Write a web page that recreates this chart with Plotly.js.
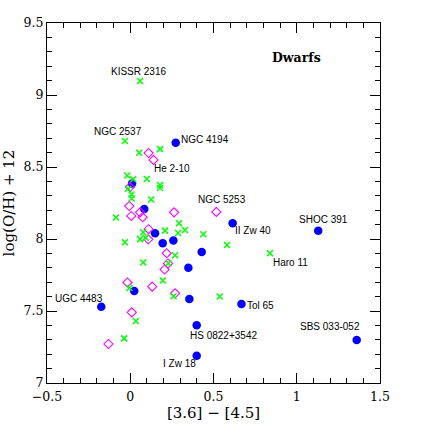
<!DOCTYPE html>
<html>
<head>
<meta charset="utf-8">
<script src="https://cdn.plot.ly/plotly-3.0.1.min.js"></script>
<style>html,body{margin:0;padding:0;background:#fff;}#chart{width:429px;height:429px;}</style>
</head>
<body>
<div id="chart"></div>
<script>
// Blue filled circles
const blueX = [0.273, 0.011, 0.084, 0.149, 0.195, 0.259, 0.615, 1.129, 0.429, 0.349, 0.355, 0.399, 0.668, 0.024, -0.174, 0.399, 1.360];
const blueY = [8.669, 8.385, 8.208, 8.040, 7.970, 7.990, 8.109, 8.058, 7.910, 7.801, 7.583, 7.401, 7.549, 7.639, 7.530, 7.190, 7.299];

// Magenta open diamonds
const magX = [0.110, 0.140, -0.002, -0.006, 0.006, 0.059, 0.074, 0.263, 0.517, 0.110, 0.108, 0.219, 0.227, 0.206, -0.017, 0.132, 0.269, 0.009, -0.131];
const magY = [8.597, 8.549, 8.361, 8.229, 8.160, 8.185, 8.151, 8.185, 8.188, 8.068, 7.998, 7.901, 7.830, 7.788, 7.698, 7.669, 7.623, 7.491, 7.271];

// Green crosses
const grnX = [0.059, -0.032, 0.054, 0.179, -0.018, 0.018, 0.099, -0.012, 0.179, 0.179, 0.008, 0.008, 0.126, -0.086, 0.078, 0.059, 0.093, -0.032, 0.209, 0.293, 0.287, 0.329, 0.439, 0.581, 0.839, 0.269, 0.078, 0.229, 0.195, -0.005, 0.260, 0.537, 0.033, -0.036];
const grnY = [9.097, 8.681, 8.599, 8.624, 8.441, 8.415, 8.417, 8.349, 8.375, 8.354, 8.309, 8.281, 8.274, 8.149, 8.047, 7.999, 8.009, 7.977, 8.058, 8.109, 8.042, 8.063, 8.033, 7.958, 7.901, 7.887, 7.837, 7.831, 7.712, 7.660, 7.602, 7.601, 7.431, 7.310];

// Labelled galaxies: name, series, index into that series
const labelNames  = ["KISSR 2316", "NGC 2537", "NGC 4194", "He 2-10", "NGC 5253", "II Zw 40", "SHOC 391", "Haro 11", "Tol 65", "SBS 033-052", "HS 0822+3542", "I Zw 18", "UGC 4483"];
const labelSeries = ["grn", "grn", "blue", "mag", "mag", "blue", "blue", "grn", "blue", "blue", "blue", "blue", "blue"];
const labelIndex  = [0, 1, 0, 1, 8, 6, 7, 24, 12, 16, 11, 15, 14];

const xTickVals = [-0.5, 0, 0.5, 1, 1.5];
const yTickVals = [7, 7.5, 8, 8.5, 9, 9.5];

// Label placement (pixels relative to the point)
const labelStyle = [
  {xanchor: "center", xshift: -2, yshift: 10},
  {xanchor: "center", xshift: -7, yshift: 9},
  {xanchor: "left", xshift: 3, yshift: 3},
  {xanchor: "left", xshift: -2, yshift: -9},
  {xanchor: "center", xshift: 6, yshift: 12},
  {xanchor: "left", xshift: 0, yshift: -7},
  {xanchor: "center", xshift: 5, yshift: 11},
  {xanchor: "left", xshift: 1, yshift: -9},
  {xanchor: "left", xshift: 4, yshift: -2},
  {xanchor: "center", xshift: -27, yshift: 13},
  {xanchor: "left", xshift: -9, yshift: -10},
  {xanchor: "right", xshift: 1, yshift: -8},
  {xanchor: "right", xshift: 4, yshift: 8}
];

const series = {blue: [blueX, blueY], mag: [magX, magY], grn: [grnX, grnY]};

const traces = [
  {x: blueX, y: blueY, type: "scatter", mode: "markers",
   marker: {symbol: "circle", size: 8.5, color: "#0000ff", line: {width: 0}}},
  {x: magX, y: magY, type: "scatter", mode: "markers",
   marker: {symbol: "diamond-open", size: 7, color: "#ff00ff", line: {width: 1.1, color: "#ff00ff"}}},
  {x: grnX, y: grnY, type: "scatter", mode: "markers",
   marker: {symbol: "x-thin", size: 6, color: "#00ff00", line: {width: 1.5, color: "#00ff00"}}}
];

const annotations = labelNames.map((name, i) => {
  const s = series[labelSeries[i]];
  const st = labelStyle[i];
  return {
    x: s[0][labelIndex[i]], y: s[1][labelIndex[i]], xref: "x", yref: "y",
    text: name, showarrow: false, xanchor: st.xanchor, yanchor: "middle",
    xshift: st.xshift, yshift: st.yshift,
    font: {family: "Liberation Sans, Arial, sans-serif", size: 10, color: "#000"}
  };
});
annotations.push({
  x: 1.0, y: 9.26, xref: "x", yref: "y", text: "<b>Dwarfs</b>", showarrow: false,
  xanchor: "center", yanchor: "middle",
  font: {family: "DejaVu Serif, serif", size: 12.5, color: "#000"}
});

const axisCommon = {
  showgrid: false, zeroline: false, showline: true, linecolor: "#000", linewidth: 1,
  mirror: "allticks", ticks: "inside", ticklen: 10, tickwidth: 1, tickcolor: "#000",
  tickfont: {family: "DejaVu Serif, serif", size: 12.5, color: "#000"},
  minor: {dtick: 0.1, ticks: "inside", ticklen: 5, tickwidth: 1, tickcolor: "#000", showgrid: false}
};

const layout = {
  width: 429, height: 429,
  margin: {l: 47, r: 49, t: 23, b: 46, pad: 0},
  paper_bgcolor: "#fff", plot_bgcolor: "#fff",
  showlegend: false,
  xaxis: Object.assign({}, axisCommon, {
    range: [-0.5, 1.5], tickvals: xTickVals, ticklabelstandoff: 2,
    title: {text: "[3.6] \u2212 [4.5]", standoff: 0, font: {family: "DejaVu Serif, serif", size: 15, color: "#000"}}
  }),
  yaxis: Object.assign({}, axisCommon, {
    range: [7, 9.5], tickvals: yTickVals,
    title: {text: "log(O/H) + 12", standoff: 6, font: {family: "DejaVu Serif, serif", size: 15, color: "#000"}}
  }),
  annotations: annotations
};

Plotly.newPlot("chart", traces, layout, {staticPlot: true, displayModeBar: false});
</script>
</body>
</html>
